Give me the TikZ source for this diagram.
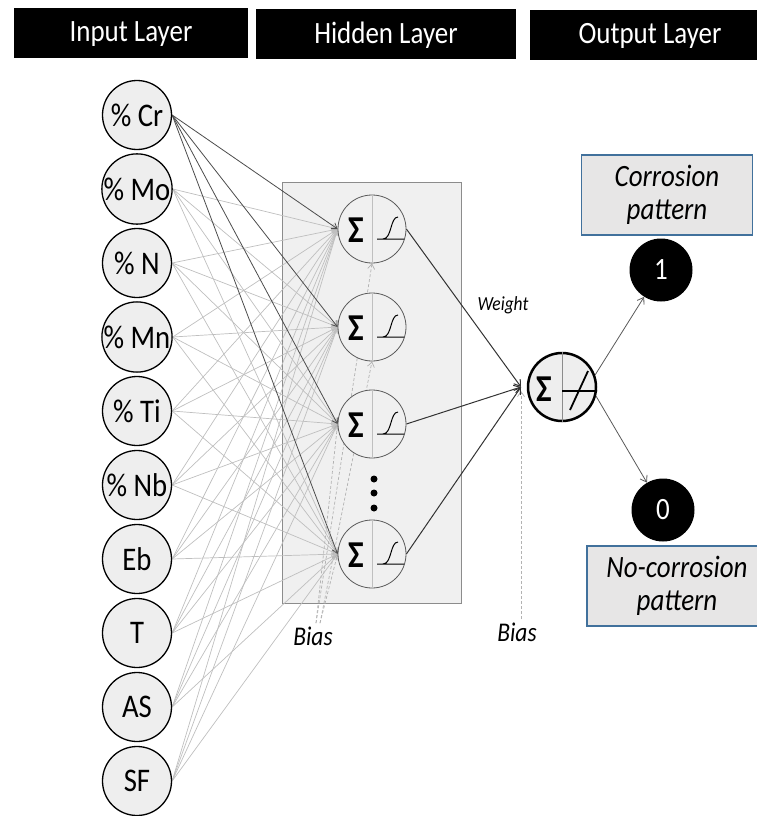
\documentclass[tikz,border=0pt]{standalone}
\usepackage{fontspec}
\setmainfont{Carlito}[FakeStretch=0.87]
\usetikzlibrary{arrows.meta,positioning}

\definecolor{nodegray}{HTML}{EEEEEE}
\definecolor{boxgray}{HTML}{F0F0F0}
\definecolor{pattgray}{HTML}{E7E6E6}
\definecolor{pattblue}{HTML}{41719C}

\pgfdeclarelayer{back}
\pgfdeclarelayer{edges}
\pgfsetlayers{back,edges,main}

\begin{document}
\begin{tikzpicture}[x=1pt, y=-1pt,
        header/.style = {fill=black, text=white, inner sep=0pt, text depth=3pt,
            minimum height=50pt, font=\fontsize{31}{33}\selectfont},
        input/.style = {circle, draw, line width=1.3pt, fill=nodegray,
            minimum size=69pt, inner sep=0pt, font=\fontsize{33}{35}\selectfont},
        hidden/.style = {circle, draw=black!65, line width=0.8pt,
            fill=boxgray, minimum size=68pt, inner sep=0pt},
        outn/.style = {circle, draw, line width=2.5pt, fill=nodegray,
            minimum size=68pt, inner sep=0pt},
        sigma/.style = {inner sep=0pt, font=\fontsize{38}{40}\selectfont\bfseries},
        cls/.style = {circle, fill=black, text=white, minimum size=63pt,
            inner sep=0pt, font=\fontsize{31}{33}\selectfont},
        patt/.style = {draw=pattblue, line width=1.3pt, fill=pattgray,
            align=center, minimum height=80pt, inner sep=0pt,
            font=\itshape\fontsize{31}{33}\selectfont},
        biaslab/.style = {font=\itshape\fontsize{27}{29}\selectfont},
        wlight/.style = {draw=black!25, line width=0.7pt,
            -{Straight Barb[length=5pt,width=7pt]}},
        wdark/.style = {draw=black!70, line width=0.8pt,
            -{Straight Barb[length=5pt,width=7pt]}},
        wout/.style = {draw=black!80, line width=1pt,
            -{Straight Barb[length=6pt,width=8pt]}},
        wbias/.style = {draw=black!30, line width=0.7pt,
            dash pattern=on 3pt off 2pt, -{Straight Barb[length=5pt,width=7pt]}}]

        \useasboundingbox (0,0) rectangle (756,816);

        % Headers
        \node[header, minimum width=234pt] (hin) at (131,33) {Input Layer};
        \node[header, minimum width=260pt] (hhid) at (386,34) {Hidden Layer};
        \node[header, minimum width=240pt] (hout) at (650,35) {Output Layer};

        % Hidden layer box
        \begin{pgfonlayer}{back}
            \node[draw=black!45, fill=boxgray, minimum width=179pt,
                minimum height=421pt] (hbox) at (371.5,392.5) {};
        \end{pgfonlayer}

        % Input layer
        \foreach \lab [count=\i] in {\% Cr,\% Mo,\% N,\% Mn,\% Ti,\% Nb,Eb,T,AS,SF}
            \node[input] (in\i) at (137,41+74*\i) {\lab};

        % Hidden layer
        \foreach \y [count=\j] in {229,327,424,554}
            \node[hidden] (h\j) at (372,\y) {};
        \fill (374,479) circle (3.5pt) (374,493) circle (3.5pt) (374,508) circle (3.5pt);

        % Output layer
        \node[outn] (out) at (562,387) {};
        \coordinate (oin) at (521,387);
        \node[cls] (one) at (661,270) {1};
        \node[cls] (zero) at (663,510) {0};
        \node[patt, minimum width=171pt] (cp) at (667,195) {Corrosion\\pattern};
        \node[patt, minimum width=180pt] (ncp) at (677,586) {No-corrosion\\pattern};

        % Bias and weight labels
        \node[biaslab] (b1) at (313,636) {Bias};
        \node[biaslab] (b2) at (517,632) {Bias};
        \node[font=\itshape\fontsize{20}{22}\selectfont] (wt) at (503,305) {Weight};

        % Weights
        \begin{pgfonlayer}{edges}
            \foreach \i in {2,...,10}
                \foreach \j in {1,...,4}
                    \draw[wlight] (in\i.east) -- (h\j.west);
            \foreach \j in {1,...,4}
                \draw[wdark] (in1.east) -- (h\j.west);
            \draw[wbias] ([xshift=3pt]b1.north) -- (h1.south);
            \draw[wbias] ([xshift=7pt]b1.north) -- (h2.south);
            \draw[wbias] ([xshift=3pt]b1.north) -- (h3.west);
            \draw[wbias] ([xshift=7pt]b1.north) -- (h4.west);
            \draw[wbias] (b2.north -| oin) -- ([yshift=-4pt]oin);
        \end{pgfonlayer}
        \foreach \j in {1,3,4}
            \draw[wout] (h\j.east) -- (oin);
        \draw[draw=black!65, line width=0.8pt, -{Straight Barb[length=6pt,width=8pt]}] (out.20) -- (one);
        \draw[draw=black!65, line width=0.8pt, -{Straight Barb[length=6pt,width=8pt]}] (out.-15) -- (zero);

        % Neuron symbols
        \foreach \j in {1,...,4} {
            \draw[black!25] (h\j.north) -- (h\j.south);
            \node[sigma] (s\j) at ([xshift=-16pt,yshift=-1pt]h\j.center) {Σ};
            \draw[line width=1pt] ([shift={(5,10)}]h\j.center) -- ++(27,0)
                ([shift={(11,10)}]h\j.center) .. controls +(9,0) and +(-8,0) .. ++(15,-22);
        }
        \draw[black!45, line width=1pt] (out.north) -- (out.south);
        \node[sigma] (so) at ([xshift=-18pt,yshift=-2pt]out.center) {Σ};
        \draw[line width=1.8pt] ([shift={(0,4)}]out.center) -- ([shift={(35,4)}]out.center)
            ([shift={(8,23)}]out.center) -- ([shift={(26,-16)}]out.center);

    \end{tikzpicture}
\end{document}
